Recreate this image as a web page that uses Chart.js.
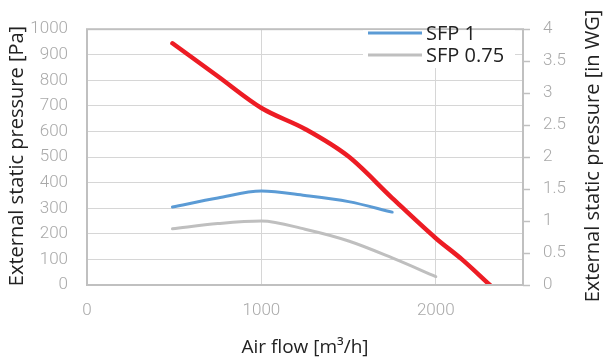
<!DOCTYPE html>
<html>
<head>
<meta charset="utf-8">
<script src="https://cdn.jsdelivr.net/npm/chart.js@4/dist/chart.umd.min.js"></script>
<style>
    html, body { margin: 0; padding: 0; background: #fff; }
    #wrap { width: 603px; height: 362px; }
</style>
</head>
<body>
<div id="wrap"><canvas id="fanChart" width="603" height="362"></canvas></div>
<script>
// Fan curve and SFP limit curves, air flow [m3/h] vs pressure [Pa]
const fanFlow = [490, 750, 1000, 1250, 1500, 1750, 2000, 2150, 2310];
const fanPressure = [945, 816, 692, 610, 502, 340, 183, 100, 0];

const sfp1Flow = [490, 750, 1000, 1250, 1500, 1750];
const sfp1Pressure = [305, 340, 367, 350, 326, 285];

const sfp075Flow = [490, 750, 1000, 1250, 1500, 1750, 2000];
const sfp075Pressure = [220, 240, 250, 218, 172, 106, 33];

const flowTicks = [0, 1000, 2000];

const tickFont = { family: "Roboto, sans-serif", size: 17, weight: '300' };
const titleFont = "20px 'Open Sans', sans-serif";
const tickGray = '#a9a9a9';
const gridGray = '#d6d6d6';
const borderGray = '#c0c0c0';

function toPoints(xs, ys) {
    return xs.map(function (x, i) { return { x: x, y: ys[i] }; });
}

function plainLabel(value) {
    return String(value);
}

// Box around the plot area, the in-plot legend and the two vertical axis titles
const framePlugin = {
    id: 'frame',
    afterDatasetsDraw: function (chart) {
        const ctx = chart.ctx;
        const area = chart.chartArea;
        ctx.save();

        ctx.strokeStyle = borderGray;
        ctx.lineWidth = 2;
        ctx.strokeRect(area.left, area.top, area.right - area.left, area.bottom - area.top);

        // legend, SFP curves only
        const boxLeft = 363, boxTop = area.top + 1, boxRight = 515, boxBottom = 68;
        ctx.fillStyle = '#fff';
        ctx.fillRect(boxLeft, boxTop, boxRight - boxLeft, boxBottom - boxTop);
        const rows = [1, 2];
        ctx.font = "20px 'Open Sans', sans-serif";
        ctx.textBaseline = 'middle';
        rows.forEach(function (dsIndex, i) {
            const ds = chart.data.datasets[dsIndex];
            const y = 33 + i * 22;
            ctx.strokeStyle = ds.borderColor;
            ctx.lineWidth = 3;
            ctx.lineCap = 'butt';
            ctx.beginPath();
            ctx.moveTo(368, y);
            ctx.lineTo(422, y);
            ctx.stroke();
            ctx.fillStyle = '#222';
            ctx.textAlign = 'left';
            ctx.fillText(ds.label, 426, y + 1);
        });

        // vertical axis titles, both reading bottom to top
        ctx.font = titleFont;
        ctx.fillStyle = '#222';
        ctx.textAlign = 'center';
        ctx.textBaseline = 'middle';
        [[17, 'External static pressure [Pa]'], [593, 'External static pressure [in WG]']].forEach(function (t) {
            ctx.save();
            ctx.translate(t[0], 156);
            ctx.rotate(-Math.PI / 2);
            ctx.fillText(t[1], 0, 0);
            ctx.restore();
        });
        ctx.restore();
    }
};

const ctx = document.getElementById('fanChart').getContext('2d');
new Chart(ctx, {
    type: 'line',
    data: {
        datasets: [{
            label: 'Fan',
            data: toPoints(fanFlow, fanPressure),
            borderColor: '#ed1c24',
            borderWidth: 4.5,
            borderCapStyle: 'round',
            pointRadius: 0,
            cubicInterpolationMode: 'monotone',
            fill: false,
        }, {
            label: 'SFP 1',
            data: toPoints(sfp1Flow, sfp1Pressure),
            borderColor: '#5b9bd5',
            borderWidth: 3,
            borderCapStyle: 'round',
            pointRadius: 0,
            cubicInterpolationMode: 'monotone',
            fill: false,
        }, {
            label: 'SFP 0.75',
            data: toPoints(sfp075Flow, sfp075Pressure),
            borderColor: '#bfbfbf',
            borderWidth: 3,
            borderCapStyle: 'round',
            pointRadius: 0,
            cubicInterpolationMode: 'monotone',
            fill: false,
        }]
    },
    options: {
        responsive: false,
        animation: false,
        layout: { padding: { top: 18 } },
        plugins: {
            legend: { display: false },
            tooltip: { enabled: false },
        },
        scales: {
            x: {
                type: 'linear',
                min: 0,
                max: 2500,
                afterBuildTicks: function (scale) {
                    scale.ticks = flowTicks.map(function (v) { return { value: v }; });
                },
                afterFit: function (scale) { scale.height = 77; },
                grid: { color: gridGray, drawTicks: false },
                border: { display: false },
                ticks: { font: tickFont, color: tickGray, padding: 16, callback: plainLabel },
                title: {
                    display: true,
                    text: 'Air flow [m³/h]',
                    font: { family: "'Open Sans', sans-serif", size: 19 },
                    color: '#222',
                    padding: { top: 0, bottom: 3 },
                },
            },
            y: {
                position: 'left',
                min: 0,
                max: 1000,
                afterFit: function (scale) { scale.width = 87; },
                grid: { color: gridGray, drawTicks: false },
                border: { display: false },
                ticks: { stepSize: 100, font: tickFont, color: tickGray, padding: 19, callback: plainLabel },
            },
            y2: {
                position: 'right',
                min: 0,
                max: 4,
                afterFit: function (scale) { scale.width = 80; },
                grid: { drawOnChartArea: false, tickLength: 7, tickColor: borderGray, tickWidth: 1.5 },
                border: { display: false },
                ticks: { stepSize: 0.5, font: tickFont, color: tickGray, padding: 13, callback: plainLabel },
            },
        }
    },
    plugins: [framePlugin]
});
</script>
</body>
</html>
